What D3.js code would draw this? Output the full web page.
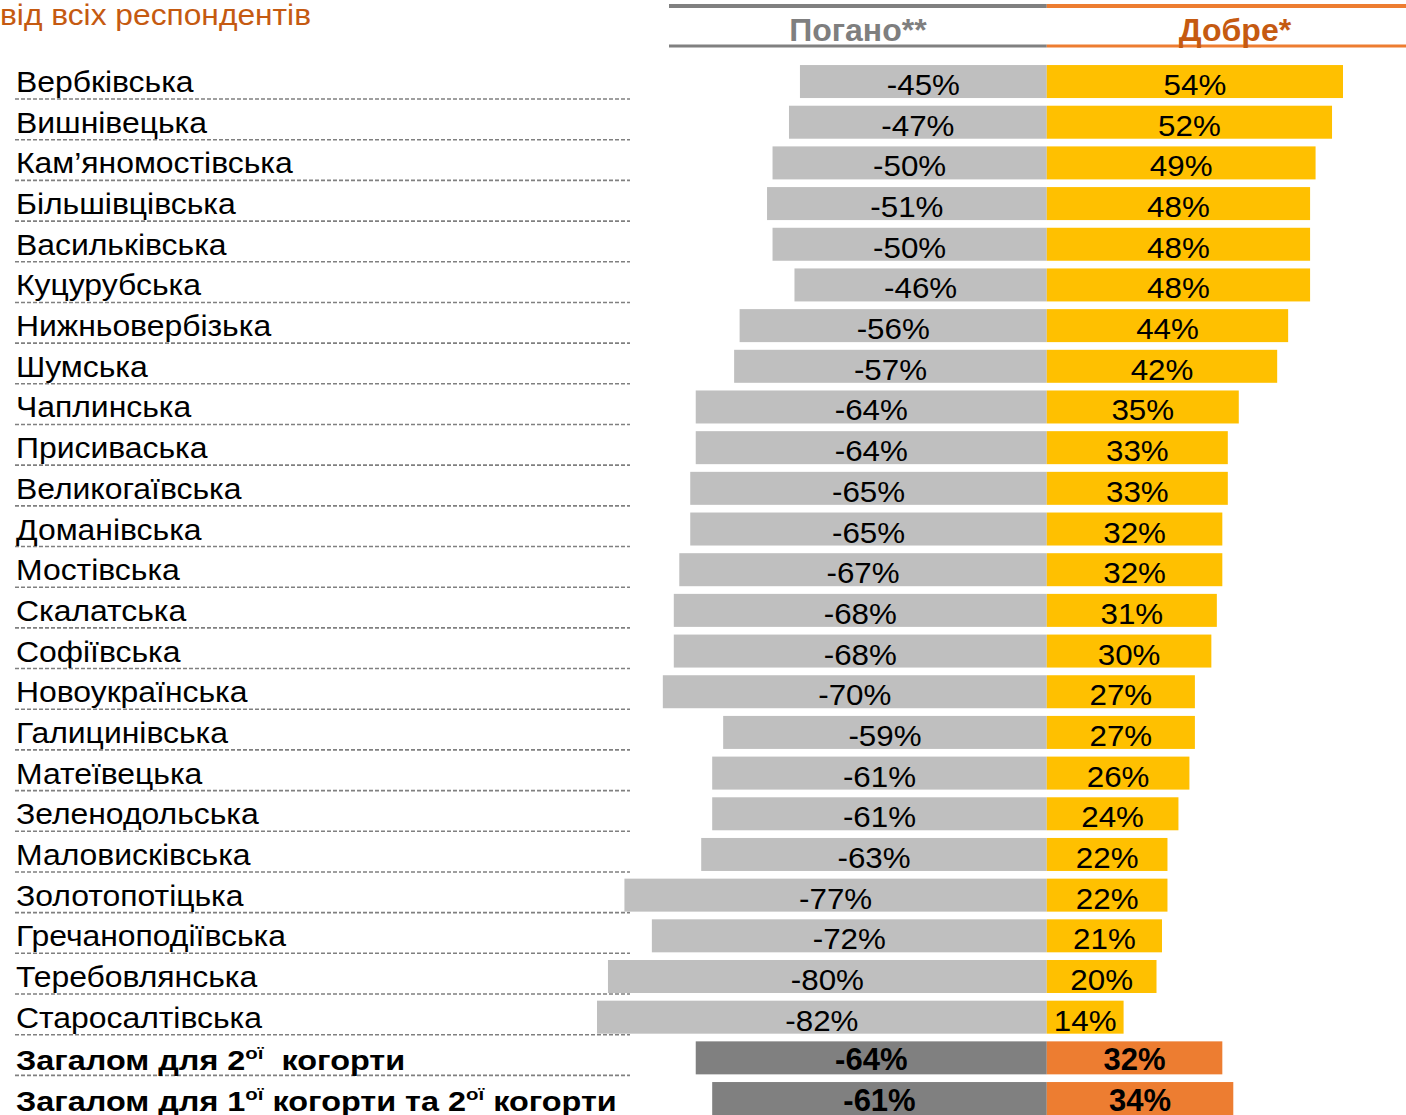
<!DOCTYPE html>
<html><head><meta charset="utf-8">
<script src="https://cdn.jsdelivr.net/npm/d3@7"></script>
<style>body{margin:0;background:#fff;overflow:hidden}svg{display:block}text{font-family:"Liberation Sans",Arial,sans-serif}</style>
</head><body>
<script>
const categories = ["Вербківська","Вишнівецька","Кам’яномостівська","Більшівцівська","Васильківська","Куцурубська","Нижньовербізька","Шумська","Чаплинська","Присиваська","Великогаївська","Доманівська","Мостівська","Скалатська","Софіївська","Новоукраїнська","Галицинівська","Матеївецька","Зеленодольська","Маловисківська","Золотопотіцька","Гречаноподіївська","Теребовлянська","Старосалтівська","Загалом для 2ої  когорти","Загалом для 1ої когорти та 2ої когорти"];
const bad = [-45,-47,-50,-51,-50,-46,-56,-57,-64,-64,-65,-65,-67,-68,-68,-70,-59,-61,-61,-63,-77,-72,-80,-82,-64,-61];
const good = [54,52,49,48,48,48,44,42,35,33,33,32,32,31,30,27,27,26,24,22,22,21,20,14,32,34];
const totals = ["Загалом для 2ої  когорти","Загалом для 1ої когорти та 2ої когорти"];
const headers = ["Погано**","Добре*"];
const title = "від всіх респондентів";

const W=1406,H=1115;
const svg=d3.select("body").append("svg").attr("width",W).attr("height",H);
const x=d3.scaleLinear().domain([-82,54]).range([597,1343]);
const y=d3.scaleBand().domain(categories).range([61.2,61.2+26*40.68]).padding(0);
const bh=33;
const isTot=c=>totals.includes(c);
const cy=c=>y(c)+y.bandwidth()/2;

svg.append("text").attr("transform","translate(0,25) scale(1.095,1)").attr("font-size",29).attr("fill","#C55A11").text(title);

// header lines
const x0=x(0);
[[669,x0,"#808080"],[x0,W,"#ED7D31"]].forEach(([a,b,c])=>{
  svg.append("line").attr("x1",a).attr("x2",b).attr("y1",6).attr("y2",6).attr("stroke",c).attr("stroke-width",4);
  svg.append("line").attr("x1",a).attr("x2",b).attr("y1",46).attr("y2",46).attr("stroke",c).attr("stroke-width",3);
});
svg.append("text").attr("x",(669+x0)/2).attr("y",41).attr("text-anchor","middle").attr("font-size",32).attr("font-weight","bold").attr("fill","#7F7F7F").text(headers[0]);
svg.append("text").attr("x",1235).attr("y",41).attr("text-anchor","middle").attr("font-size",32).attr("font-weight","bold").attr("fill","#C55A11").text(headers[1]);

const rows=svg.selectAll("g.row").data(categories.map((c,i)=>({c,b:bad[i],g:good[i]}))).join("g").attr("class","row");
rows.append("line").attr("x1",15).attr("x2",630)
  .attr("y1",d=>cy(d.c)+bh/2+1).attr("y2",d=>cy(d.c)+bh/2+1)
  .attr("stroke","#808080").attr("stroke-width",1.6).attr("stroke-dasharray","4,2");
rows.append("rect").attr("x",d=>x(d.b)).attr("width",d=>x(0)-x(d.b))
  .attr("y",d=>cy(d.c)-bh/2).attr("height",bh)
  .attr("fill",d=>isTot(d.c)?"#808080":"#BFBFBF");
rows.append("rect").attr("x",x(0)).attr("width",d=>x(d.g)-x(0))
  .attr("y",d=>cy(d.c)-bh/2).attr("height",bh)
  .attr("fill",d=>isTot(d.c)?"#ED7D31":"#FFC000");
const valTf=(cx,d)=>isTot(d.c)?`translate(${cx},${cy(d.c)+12.5}) scale(1,1)`:`translate(${cx},${cy(d.c)+13.5}) scale(1.08,1)`;
rows.append("text").attr("transform",d=>valTf((x(d.b)+x(0))/2,d))
  .attr("text-anchor","middle").attr("font-size",d=>isTot(d.c)?31:29).attr("font-weight",d=>isTot(d.c)?"bold":"normal").text(d=>d.b+"%");
rows.append("text").attr("transform",d=>valTf((x(d.g)+x(0))/2,d))
  .attr("text-anchor","middle").attr("font-size",d=>isTot(d.c)?31:29).attr("font-weight",d=>isTot(d.c)?"bold":"normal").text(d=>d.g+"%");
rows.each(function(d){
  const tot=isTot(d.c);
  const t=d3.select(this).append("text")
    .attr("transform",`translate(16,${cy(d.c)+(tot?12:10.5)}) scale(${tot?1.2:1.1},1)`)
    .attr("font-size",tot?27:29).attr("font-weight",tot?"bold":"normal").attr("xml:space","preserve");
  const parts=d.c.split(/(ої)/);
  parts.forEach(p=>{
    if(p==="ої") t.append("tspan").attr("font-size",17).attr("dy",-11).text(p);
    else if(p){ const prev=t.selectAll("tspan").size()>0; t.append("tspan").attr("dy",prev?11:0).text(p); }
  });
});
</script>
</body></html>
